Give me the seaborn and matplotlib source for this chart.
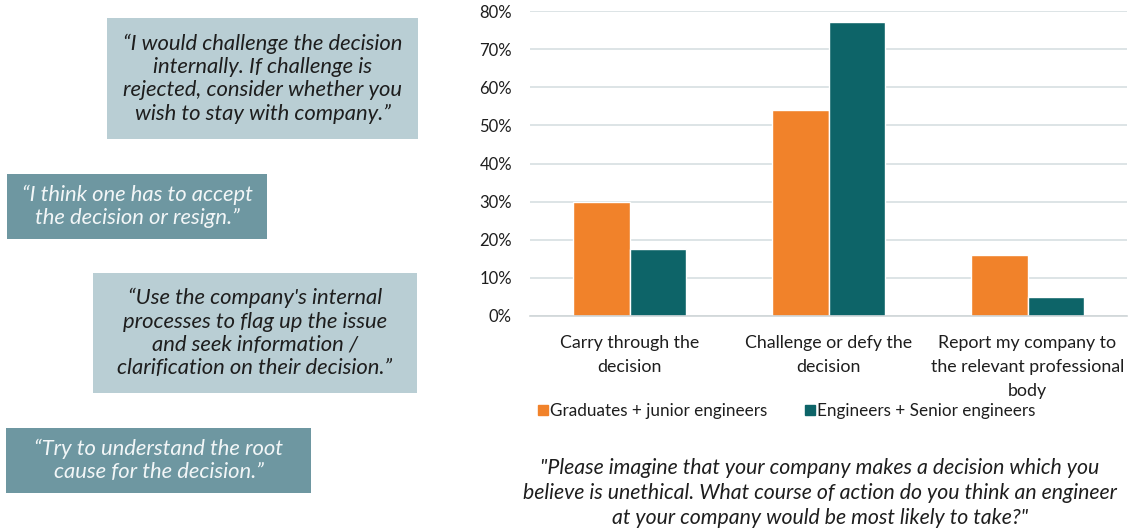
import matplotlib
matplotlib.use("Agg")
import matplotlib.pyplot as plt
from matplotlib.patches import Rectangle
from matplotlib.lines import Line2D
import seaborn as sns
import pandas as pd

# Survey results
actions = ["Carry through the\ndecision",
           "Challenge or defy the\ndecision",
           "Report my company to\nthe relevant professional\nbody"]
groups = ["Graduates + junior engineers", "Engineers + Senior engineers"]
graduates = [30, 54, 16]
engineers = [17.5, 77, 5]
y_ticks = [0, 10, 20, 30, 40, 50, 60, 70, 80]

quotes = [
    "\u201cI would challenge the decision\ninternally. If challenge is\nrejected, consider whether you\nwish to stay with company.\u201d",
    "\u201cI think one has to accept\nthe decision or resign.\u201d",
    "\u201cUse the company's internal\nprocesses to flag up the issue\nand seek information /\nclarification on their decision.\u201d",
    "\u201cTry to understand the root\ncause for the decision.\u201d",
]
question = ("\"Please imagine that your company makes a decision which you\n"
            "believe is unethical. What course of action do you think an engineer\n"
            "at your company would be most likely to take?\"")

df = pd.DataFrame({
    "action": actions * 2,
    "group": [groups[0]] * 3 + [groups[1]] * 3,
    "value": graduates + engineers,
})

sns.set_theme(style="white")
plt.rcParams["font.family"] = ["Lato", "DejaVu Sans"]

ORANGE = "#f1822a"
TEAL = "#0d6468"
LIGHT_BOX = "#b9ced4"
DARK_BOX = "#6e97a1"
TEXT = "#1e1e1e"

W, H = 1131, 532
fig = plt.figure(figsize=(W / 100, H / 100), dpi=100)
fig.patch.set_facecolor("white")

ax = fig.add_axes([530 / W, 1 - 316 / H, (1127 - 530) / W, (316 - 11) / H])
sns.barplot(data=df, x="action", y="value", hue="group",
            palette=[ORANGE, TEAL], width=0.57, saturation=1,
            ax=ax, legend=False)

ax.set_ylim(0, 80)
ax.set_xlim(-0.5, 2.5)
ax.set_yticks(y_ticks)
ax.set_yticklabels([f"{v}%" for v in y_ticks], fontsize=12, color=TEXT)
ax.yaxis.grid(True, color="#d7dfe2", linewidth=1.2)
ax.set_axisbelow(True)
ax.set_xlabel("")
ax.set_ylabel("")
for side in ["top", "right", "left"]:
    ax.spines[side].set_visible(False)
ax.spines["bottom"].set_color("#d0d6d8")
ax.spines["bottom"].set_linewidth(1.2)
ax.tick_params(axis="y", length=0, pad=13)
ax.set_xticks([0, 1, 2])
ax.set_xticklabels(actions, fontsize=12.8, color=TEXT, linespacing=1.6)
ax.tick_params(axis="x", which="major", length=0, pad=14)
ax.set_xticks([-0.5, 0.5, 1.5, 2.5], minor=True)
ax.tick_params(axis="x", which="minor", length=5, color="#d0d6d8", width=1.2)

handles = [Line2D([0], [0], marker="s", linestyle="", markersize=7,
                  markerfacecolor=c, markeredgecolor=c) for c in (ORANGE, TEAL)]
fig.legend(handles, groups, loc="center", bbox_to_anchor=(784 / W, 1 - 411 / H),
           ncol=2, frameon=False, fontsize=12.3, handletextpad=-0.2,
           handlelength=1.2, columnspacing=1.9, labelcolor=TEXT)

fig.text(820 / W, 1 - 493 / H, question, ha="center", va="center",
         fontsize=15.3, style="italic", color=TEXT, linespacing=1.3)

# Quote boxes: (left, top, right, bottom) in pixels, fill, text colour
boxes = [
    (107, 18, 418, 139, LIGHT_BOX, TEXT),
    (7, 174, 267, 239, DARK_BOX, "#f2f6f7"),
    (93, 273, 417, 393, LIGHT_BOX, TEXT),
    (6, 428, 311, 493, DARK_BOX, "#f2f6f7"),
]
for (l, t, r, b, fc, tc), q in zip(boxes, quotes):
    fig.patches.append(Rectangle((l / W, 1 - b / H), (r - l) / W, (b - t) / H,
                                 transform=fig.transFigure, facecolor=fc,
                                 edgecolor="none", zorder=0))
    fig.text((l + r) / 2 / W, 1 - (t + b) / 2 / H, q, ha="center", va="center",
             fontsize=15.8, style="italic", color=tc, linespacing=1.2)

fig.savefig("out.png", dpi=100, facecolor="white")
